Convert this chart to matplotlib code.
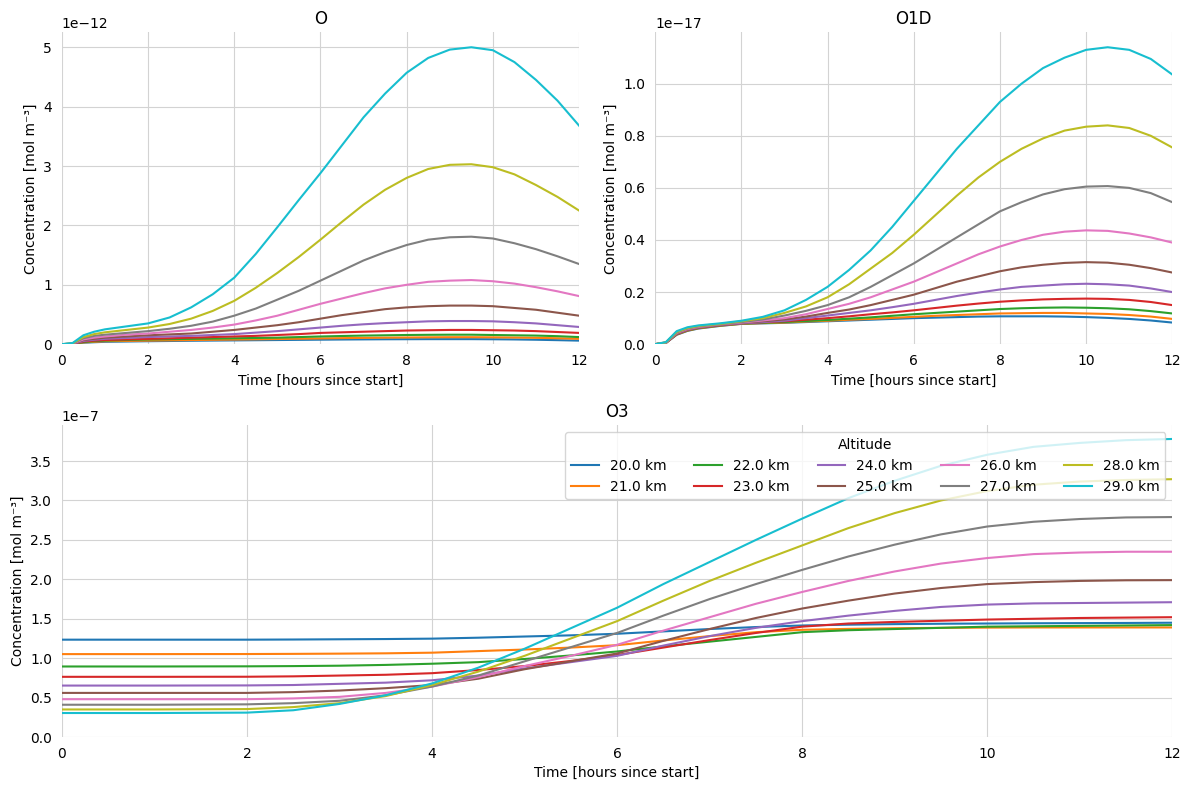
"""
Concentration of O, O1D and O3 over time for several altitudes.
"""
import matplotlib
matplotlib.use("Agg")
from matplotlib import pyplot as plt
import numpy as np


ALTITUDES = [20.0, 21.0, 22.0, 23.0, 24.0, 25.0, 26.0, 27.0, 28.0, 29.0]

# time axis for O and O1D [hours]
T_FAST = [0, 0.25, 0.5, 0.75, 1, 1.5, 2, 2.5, 3, 3.5, 4, 4.5, 5, 5.5, 6,
          6.5, 7, 7.5, 8, 8.5, 9, 9.5, 10, 10.5, 11, 11.5, 12]

# O [1e-12 mol m^-3], one list per altitude
O_20 = [0, 0.002, 0.025, 0.033, 0.04, 0.045, 0.05, 0.054, 0.058, 0.061, 0.064, 0.067, 0.07, 0.073,
        0.076, 0.079, 0.081, 0.083, 0.084, 0.085, 0.085, 0.085, 0.083, 0.08, 0.075, 0.068, 0.06]
O_21 = [0, 0.003, 0.03, 0.04, 0.05, 0.055, 0.06, 0.065, 0.07, 0.074, 0.078, 0.082, 0.087, 0.092,
        0.097, 0.102, 0.106, 0.11, 0.113, 0.116, 0.118, 0.118, 0.116, 0.112, 0.107, 0.1, 0.09]
O_22 = [0, 0.004, 0.035, 0.05, 0.06, 0.07, 0.08, 0.085, 0.09, 0.095, 0.1, 0.105, 0.11, 0.12,
        0.13, 0.138, 0.145, 0.15, 0.155, 0.158, 0.16, 0.16, 0.155, 0.15, 0.145, 0.135, 0.12]
O_23 = [0, 0.005, 0.045, 0.06, 0.07, 0.08, 0.09, 0.1, 0.11, 0.12, 0.13, 0.14, 0.155, 0.17,
        0.19, 0.2, 0.21, 0.22, 0.23, 0.235, 0.24, 0.24, 0.235, 0.23, 0.22, 0.205, 0.19]
O_24 = [0, 0.006, 0.055, 0.075, 0.09, 0.105, 0.12, 0.13, 0.14, 0.155, 0.17, 0.195, 0.22, 0.25,
        0.28, 0.31, 0.335, 0.355, 0.37, 0.385, 0.39, 0.39, 0.385, 0.37, 0.35, 0.32, 0.29]
O_25 = [0, 0.008, 0.07, 0.09, 0.11, 0.13, 0.15, 0.165, 0.18, 0.21, 0.24, 0.28, 0.32, 0.37,
        0.43, 0.49, 0.54, 0.59, 0.62, 0.64, 0.65, 0.65, 0.64, 0.61, 0.58, 0.53, 0.48]
O_26 = [0, 0.01, 0.08, 0.11, 0.13, 0.16, 0.18, 0.21, 0.24, 0.28, 0.33, 0.4, 0.48, 0.58,
        0.68, 0.77, 0.86, 0.94, 1.0, 1.05, 1.07, 1.08, 1.06, 1.02, 0.96, 0.89, 0.81]
O_27 = [0, 0.012, 0.1, 0.14, 0.16, 0.19, 0.22, 0.26, 0.31, 0.38, 0.48, 0.6, 0.75, 0.9,
        1.07, 1.24, 1.41, 1.55, 1.67, 1.76, 1.8, 1.81, 1.78, 1.7, 1.6, 1.48, 1.35]
O_28 = [0, 0.015, 0.12, 0.17, 0.2, 0.24, 0.28, 0.34, 0.43, 0.56, 0.73, 0.95, 1.2, 1.47,
        1.76, 2.06, 2.35, 2.6, 2.8, 2.95, 3.02, 3.03, 2.98, 2.86, 2.68, 2.48, 2.25]
O_29 = [0, 0.02, 0.15, 0.21, 0.25, 0.3, 0.35, 0.45, 0.62, 0.84, 1.12, 1.52, 1.97, 2.43,
        2.88, 3.35, 3.82, 4.22, 4.57, 4.82, 4.96, 5.0, 4.95, 4.75, 4.45, 4.1, 3.68]

# O1D [1e-17 mol m^-3]
O1D_20 = [0, 0.005, 0.036, 0.051, 0.06, 0.07, 0.078, 0.08, 0.082, 0.085, 0.088, 0.091, 0.094, 0.097,
          0.1, 0.102, 0.104, 0.106, 0.107, 0.107, 0.107, 0.106, 0.104, 0.101, 0.097, 0.091, 0.083]
O1D_21 = [0, 0.005, 0.037, 0.052, 0.061, 0.071, 0.078, 0.081, 0.083, 0.087, 0.09, 0.094, 0.097, 0.101,
          0.105, 0.109, 0.112, 0.115, 0.118, 0.119, 0.12, 0.12, 0.118, 0.116, 0.112, 0.106, 0.097]
O1D_22 = [0, 0.005, 0.038, 0.053, 0.062, 0.072, 0.079, 0.082, 0.085, 0.089, 0.093, 0.098, 0.103, 0.109,
          0.115, 0.12, 0.125, 0.13, 0.135, 0.138, 0.14, 0.141, 0.14, 0.138, 0.134, 0.127, 0.118]
O1D_23 = [0, 0.005, 0.039, 0.054, 0.063, 0.073, 0.08, 0.084, 0.088, 0.094, 0.1, 0.107, 0.115, 0.122,
          0.13, 0.139, 0.148, 0.156, 0.163, 0.168, 0.172, 0.174, 0.175, 0.174, 0.17, 0.162, 0.15]
O1D_24 = [0, 0.005, 0.04, 0.055, 0.064, 0.074, 0.08, 0.085, 0.09, 0.1, 0.11, 0.12, 0.13, 0.142,
          0.155, 0.17, 0.185, 0.198, 0.21, 0.22, 0.225, 0.23, 0.232, 0.23, 0.225, 0.214, 0.2]
O1D_25 = [0, 0.006, 0.041, 0.056, 0.065, 0.075, 0.082, 0.088, 0.095, 0.106, 0.12, 0.133, 0.15, 0.17,
          0.19, 0.215, 0.24, 0.26, 0.28, 0.295, 0.305, 0.312, 0.315, 0.313, 0.305, 0.292, 0.275]
O1D_26 = [0, 0.006, 0.043, 0.058, 0.066, 0.076, 0.083, 0.091, 0.1, 0.115, 0.135, 0.155, 0.18, 0.21,
          0.24, 0.275, 0.31, 0.345, 0.375, 0.4, 0.42, 0.432, 0.437, 0.435, 0.425, 0.41, 0.39]
O1D_27 = [0, 0.007, 0.045, 0.06, 0.068, 0.077, 0.085, 0.095, 0.11, 0.128, 0.15, 0.18, 0.22, 0.265,
          0.31, 0.36, 0.41, 0.46, 0.51, 0.545, 0.575, 0.595, 0.605, 0.607, 0.6, 0.58, 0.545]
O1D_28 = [0, 0.007, 0.047, 0.062, 0.07, 0.078, 0.088, 0.1, 0.12, 0.145, 0.18, 0.23, 0.29, 0.35,
          0.42, 0.495, 0.57, 0.64, 0.7, 0.75, 0.79, 0.82, 0.835, 0.84, 0.83, 0.8, 0.755]
O1D_29 = [0, 0.008, 0.05, 0.065, 0.072, 0.08, 0.09, 0.105, 0.13, 0.17, 0.22, 0.285, 0.36, 0.45,
          0.55, 0.65, 0.75, 0.84, 0.93, 1.0, 1.06, 1.1, 1.13, 1.14, 1.13, 1.095, 1.035]

# time axis for O3 [hours]
T_O3 = [0, 1, 2, 2.5, 3, 3.5, 4, 4.5, 5, 5.5, 6, 6.5, 7, 7.5, 8, 8.5, 9,
        9.5, 10, 10.5, 11, 11.5, 12]

# O3 [1e-7 mol m^-3]
O3_20 = [1.235, 1.235, 1.235, 1.237, 1.24, 1.243, 1.248, 1.26, 1.275, 1.29, 1.31, 1.34,
         1.37, 1.395, 1.415, 1.425, 1.432, 1.437, 1.44, 1.443, 1.445, 1.447, 1.45]
O3_21 = [1.052, 1.052, 1.053, 1.055, 1.058, 1.062, 1.07, 1.09, 1.11, 1.135, 1.165, 1.225,
         1.28, 1.33, 1.36, 1.372, 1.38, 1.385, 1.388, 1.39, 1.39, 1.39, 1.39]
O3_22 = [0.895, 0.895, 0.897, 0.9, 0.905, 0.915, 0.93, 0.95, 0.99, 1.035, 1.085, 1.15,
         1.21, 1.27, 1.33, 1.355, 1.37, 1.385, 1.4, 1.405, 1.41, 1.415, 1.42]
O3_23 = [0.764, 0.764, 0.765, 0.77, 0.78, 0.79, 0.81, 0.85, 0.9, 0.965, 1.04, 1.135,
         1.23, 1.32, 1.4, 1.44, 1.46, 1.475, 1.49, 1.5, 1.51, 1.515, 1.52]
O3_24 = [0.653, 0.653, 0.655, 0.66, 0.675, 0.69, 0.72, 0.78, 0.87, 0.95, 1.03, 1.16,
         1.28, 1.385, 1.47, 1.54, 1.6, 1.65, 1.68, 1.695, 1.7, 1.705, 1.71]
O3_25 = [0.56, 0.56, 0.56, 0.57, 0.59, 0.62, 0.66, 0.74, 0.86, 0.96, 1.06, 1.22,
         1.37, 1.51, 1.63, 1.73, 1.82, 1.89, 1.94, 1.965, 1.98, 1.988, 1.99]
O3_26 = [0.48, 0.48, 0.48, 0.49, 0.51, 0.56, 0.64, 0.76, 0.9, 1.03, 1.17, 1.35,
         1.52, 1.69, 1.84, 1.98, 2.1, 2.2, 2.27, 2.32, 2.34, 2.35, 2.35]
O3_27 = [0.41, 0.41, 0.415, 0.43, 0.46, 0.53, 0.64, 0.78, 0.96, 1.14, 1.32, 1.54,
         1.75, 1.94, 2.12, 2.29, 2.44, 2.57, 2.67, 2.73, 2.765, 2.785, 2.79]
O3_28 = [0.35, 0.35, 0.355, 0.38, 0.43, 0.52, 0.66, 0.83, 1.03, 1.25, 1.47, 1.73,
         1.98, 2.21, 2.43, 2.65, 2.84, 3.0, 3.12, 3.2, 3.24, 3.26, 3.27]
O3_29 = [0.305, 0.305, 0.31, 0.34, 0.42, 0.53, 0.68, 0.88, 1.12, 1.38, 1.64, 1.94,
         2.22, 2.5, 2.77, 3.03, 3.25, 3.44, 3.58, 3.68, 3.73, 3.765, 3.78]

PANELS = [
    ("O", T_FAST, 1e-12, [O_20, O_21, O_22, O_23, O_24, O_25, O_26, O_27, O_28, O_29]),
    ("O1D", T_FAST, 1e-17, [O1D_20, O1D_21, O1D_22, O1D_23, O1D_24, O1D_25, O1D_26, O1D_27, O1D_28, O1D_29]),
    ("O3", T_O3, 1e-7, [O3_20, O3_21, O3_22, O3_23, O3_24, O3_25, O3_26, O3_27, O3_28, O3_29]),
]


def style(ax):
    for spine in ax.spines.values():
        spine.set_visible(False)
    ax.grid(True, color="#d3d3d3", linewidth=0.8)
    ax.set_axisbelow(True)
    ax.tick_params(length=0, pad=7)
    ax.set_xlim(0, 12)
    ax.set_xlabel("Time [hours since start]")
    ax.set_ylabel("Concentration [mol m⁻³]")


if __name__ == "__main__":
    fig = plt.figure(figsize=(11.89, 7.9), dpi=100)
    gs = fig.add_gridspec(2, 2, left=0.052, right=0.986, top=0.959, bottom=0.067,
                          hspace=0.26, wspace=0.147)
    axes = [fig.add_subplot(gs[0, 0]), fig.add_subplot(gs[0, 1]), fig.add_subplot(gs[1, :])]

    for ax, (name, t, scale, series) in zip(axes, PANELS):
        for alt, values in zip(ALTITUDES, series):
            ax.plot(t, np.array(values) * scale, label=f"{alt:.1f} km", linewidth=1.5)
        style(ax)
        ax.set_ylim(bottom=0)
        ax.set_title(name)

    axes[2].legend(title="Altitude", ncol=5, loc="upper right", framealpha=0.8)

    fig.savefig("out.png", dpi=100)
